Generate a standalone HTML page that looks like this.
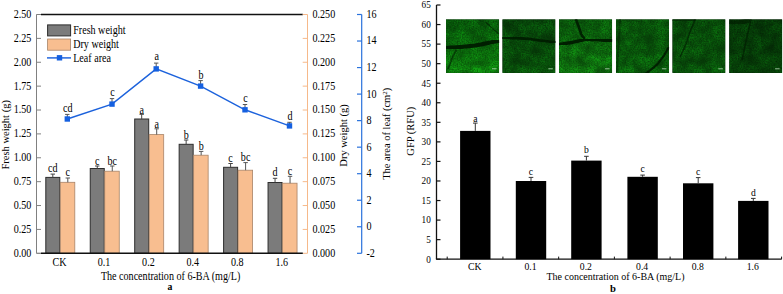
<!DOCTYPE html>
<html><head><meta charset="utf-8"><style>
html,body{margin:0;padding:0;background:#fff;width:783px;height:294px;overflow:hidden}
svg{display:block}
text{font-family:"Liberation Serif", serif;font-size:11.6px;fill:#000}
.pb{font-size:10.4px}
</style></head><body>
<svg width="783" height="294" viewBox="0 0 783 294">
<line x1="36.5" y1="14.5" x2="36.5" y2="253.3" stroke="#808080" stroke-width="1"/>
<line x1="36.5" y1="14.5" x2="41" y2="14.5" stroke="#9a9a9a" stroke-width="1"/>
<line x1="36.5" y1="253.3" x2="41" y2="253.3" stroke="#9a9a9a" stroke-width="1"/>
<line x1="41" y1="14.5" x2="302.8" y2="14.5" stroke="#111" stroke-width="1.4"/>
<line x1="36.5" y1="253.30" x2="41" y2="253.30" stroke="#808080" stroke-width="1"/>
<text transform="translate(31.3 256.70) scale(0.87 1)" text-anchor="end">0.00</text>
<line x1="36.5" y1="229.42" x2="41" y2="229.42" stroke="#808080" stroke-width="1"/>
<text transform="translate(31.3 232.82) scale(0.87 1)" text-anchor="end">0.25</text>
<line x1="36.5" y1="205.54" x2="41" y2="205.54" stroke="#808080" stroke-width="1"/>
<text transform="translate(31.3 208.94) scale(0.87 1)" text-anchor="end">0.50</text>
<line x1="36.5" y1="181.66" x2="41" y2="181.66" stroke="#808080" stroke-width="1"/>
<text transform="translate(31.3 185.06) scale(0.87 1)" text-anchor="end">0.75</text>
<line x1="36.5" y1="157.78" x2="41" y2="157.78" stroke="#808080" stroke-width="1"/>
<text transform="translate(31.3 161.18) scale(0.87 1)" text-anchor="end">1.00</text>
<line x1="36.5" y1="133.90" x2="41" y2="133.90" stroke="#808080" stroke-width="1"/>
<text transform="translate(31.3 137.30) scale(0.87 1)" text-anchor="end">1.25</text>
<line x1="36.5" y1="110.02" x2="41" y2="110.02" stroke="#808080" stroke-width="1"/>
<text transform="translate(31.3 113.42) scale(0.87 1)" text-anchor="end">1.50</text>
<line x1="36.5" y1="86.14" x2="41" y2="86.14" stroke="#808080" stroke-width="1"/>
<text transform="translate(31.3 89.54) scale(0.87 1)" text-anchor="end">1.75</text>
<line x1="36.5" y1="62.26" x2="41" y2="62.26" stroke="#808080" stroke-width="1"/>
<text transform="translate(31.3 65.66) scale(0.87 1)" text-anchor="end">2.00</text>
<line x1="36.5" y1="38.38" x2="41" y2="38.38" stroke="#808080" stroke-width="1"/>
<text transform="translate(31.3 41.78) scale(0.87 1)" text-anchor="end">2.25</text>
<line x1="36.5" y1="14.50" x2="41" y2="14.50" stroke="#808080" stroke-width="1"/>
<text transform="translate(31.3 17.90) scale(0.87 1)" text-anchor="end">2.50</text>
<line x1="307.5" y1="14.5" x2="307.5" y2="253.3" stroke="#f6b98a" stroke-width="1"/>
<line x1="302.7" y1="253.30" x2="307.5" y2="253.30" stroke="#f6b98a" stroke-width="1"/>
<text transform="translate(312.5 256.70) scale(0.87 1)">0.000</text>
<line x1="302.7" y1="229.42" x2="307.5" y2="229.42" stroke="#f6b98a" stroke-width="1"/>
<text transform="translate(312.5 232.82) scale(0.87 1)">0.025</text>
<line x1="302.7" y1="205.54" x2="307.5" y2="205.54" stroke="#f6b98a" stroke-width="1"/>
<text transform="translate(312.5 208.94) scale(0.87 1)">0.050</text>
<line x1="302.7" y1="181.66" x2="307.5" y2="181.66" stroke="#f6b98a" stroke-width="1"/>
<text transform="translate(312.5 185.06) scale(0.87 1)">0.075</text>
<line x1="302.7" y1="157.78" x2="307.5" y2="157.78" stroke="#f6b98a" stroke-width="1"/>
<text transform="translate(312.5 161.18) scale(0.87 1)">0.100</text>
<line x1="302.7" y1="133.90" x2="307.5" y2="133.90" stroke="#f6b98a" stroke-width="1"/>
<text transform="translate(312.5 137.30) scale(0.87 1)">0.125</text>
<line x1="302.7" y1="110.02" x2="307.5" y2="110.02" stroke="#f6b98a" stroke-width="1"/>
<text transform="translate(312.5 113.42) scale(0.87 1)">0.150</text>
<line x1="302.7" y1="86.14" x2="307.5" y2="86.14" stroke="#f6b98a" stroke-width="1"/>
<text transform="translate(312.5 89.54) scale(0.87 1)">0.175</text>
<line x1="302.7" y1="62.26" x2="307.5" y2="62.26" stroke="#f6b98a" stroke-width="1"/>
<text transform="translate(312.5 65.66) scale(0.87 1)">0.200</text>
<line x1="302.7" y1="38.38" x2="307.5" y2="38.38" stroke="#f6b98a" stroke-width="1"/>
<text transform="translate(312.5 41.78) scale(0.87 1)">0.225</text>
<line x1="302.7" y1="14.50" x2="307.5" y2="14.50" stroke="#f6b98a" stroke-width="1"/>
<text transform="translate(312.5 17.90) scale(0.87 1)">0.250</text>
<line x1="361.7" y1="14.5" x2="361.7" y2="253.3" stroke="#2a72dc" stroke-width="1.2"/>
<line x1="357" y1="253.30" x2="361.7" y2="253.30" stroke="#2a72dc" stroke-width="1.2"/>
<text transform="translate(366.5 256.70) scale(0.87 1)">-2</text>
<line x1="357" y1="226.77" x2="361.7" y2="226.77" stroke="#2a72dc" stroke-width="1.2"/>
<text transform="translate(366.5 230.17) scale(0.87 1)">0</text>
<line x1="357" y1="200.23" x2="361.7" y2="200.23" stroke="#2a72dc" stroke-width="1.2"/>
<text transform="translate(366.5 203.63) scale(0.87 1)">2</text>
<line x1="357" y1="173.70" x2="361.7" y2="173.70" stroke="#2a72dc" stroke-width="1.2"/>
<text transform="translate(366.5 177.10) scale(0.87 1)">4</text>
<line x1="357" y1="147.17" x2="361.7" y2="147.17" stroke="#2a72dc" stroke-width="1.2"/>
<text transform="translate(366.5 150.57) scale(0.87 1)">6</text>
<line x1="357" y1="120.63" x2="361.7" y2="120.63" stroke="#2a72dc" stroke-width="1.2"/>
<text transform="translate(366.5 124.03) scale(0.87 1)">8</text>
<line x1="357" y1="94.10" x2="361.7" y2="94.10" stroke="#2a72dc" stroke-width="1.2"/>
<text transform="translate(366.5 97.50) scale(0.87 1)">10</text>
<line x1="357" y1="67.57" x2="361.7" y2="67.57" stroke="#2a72dc" stroke-width="1.2"/>
<text transform="translate(366.5 70.97) scale(0.87 1)">12</text>
<line x1="357" y1="41.03" x2="361.7" y2="41.03" stroke="#2a72dc" stroke-width="1.2"/>
<text transform="translate(366.5 44.43) scale(0.87 1)">14</text>
<line x1="357" y1="14.50" x2="361.7" y2="14.50" stroke="#2a72dc" stroke-width="1.2"/>
<text transform="translate(366.5 17.90) scale(0.87 1)">16</text>
<rect x="45.80" y="177.40" width="14.00" height="75.90" fill="#7b7b7b" stroke="#2e2e2e" stroke-width="1"/>
<rect x="60.30" y="182.30" width="14.50" height="71.00" fill="#f8be90" stroke="#a88468" stroke-width="0.8"/>
<path d="M52.80 177.40V174.10M50.60 174.10H55.00" stroke="#444" stroke-width="1" fill="none"/>
<path d="M67.80 182.30V178.00M65.60 178.00H70.00" stroke="#555" stroke-width="1" fill="none"/>
<text transform="translate(52.80 172.10) scale(0.87 1)" text-anchor="middle">cd</text>
<text transform="translate(67.80 176.30) scale(0.87 1)" text-anchor="middle">c</text>
<rect x="90.25" y="168.50" width="14.00" height="84.80" fill="#7b7b7b" stroke="#2e2e2e" stroke-width="1"/>
<rect x="104.75" y="171.20" width="14.50" height="82.10" fill="#f8be90" stroke="#a88468" stroke-width="0.8"/>
<path d="M97.25 168.50V166.00M95.05 166.00H99.45" stroke="#444" stroke-width="1" fill="none"/>
<path d="M112.25 171.20V166.00M110.05 166.00H114.45" stroke="#555" stroke-width="1" fill="none"/>
<text transform="translate(97.25 164.50) scale(0.87 1)" text-anchor="middle">c</text>
<text transform="translate(112.25 164.50) scale(0.87 1)" text-anchor="middle">bc</text>
<rect x="134.70" y="119.00" width="14.00" height="134.30" fill="#7b7b7b" stroke="#2e2e2e" stroke-width="1"/>
<rect x="149.20" y="134.60" width="14.50" height="118.70" fill="#f8be90" stroke="#a88468" stroke-width="0.8"/>
<path d="M141.70 119.00V114.30M139.50 114.30H143.90" stroke="#444" stroke-width="1" fill="none"/>
<path d="M156.70 134.60V128.80M154.50 128.80H158.90" stroke="#555" stroke-width="1" fill="none"/>
<text transform="translate(141.70 113.70) scale(0.87 1)" text-anchor="middle">a</text>
<text transform="translate(156.70 128.10) scale(0.87 1)" text-anchor="middle">a</text>
<rect x="179.15" y="144.30" width="14.00" height="109.00" fill="#7b7b7b" stroke="#2e2e2e" stroke-width="1"/>
<rect x="193.65" y="155.20" width="14.50" height="98.10" fill="#f8be90" stroke="#a88468" stroke-width="0.8"/>
<path d="M186.15 144.30V140.00M183.95 140.00H188.35" stroke="#444" stroke-width="1" fill="none"/>
<path d="M201.15 155.20V151.40M198.95 151.40H203.35" stroke="#555" stroke-width="1" fill="none"/>
<text transform="translate(186.15 139.20) scale(0.87 1)" text-anchor="middle">b</text>
<text transform="translate(201.15 149.90) scale(0.87 1)" text-anchor="middle">b</text>
<rect x="223.60" y="167.30" width="14.00" height="86.00" fill="#7b7b7b" stroke="#2e2e2e" stroke-width="1"/>
<rect x="238.10" y="170.20" width="14.50" height="83.10" fill="#f8be90" stroke="#a88468" stroke-width="0.8"/>
<path d="M230.60 167.30V163.50M228.40 163.50H232.80" stroke="#444" stroke-width="1" fill="none"/>
<path d="M245.60 170.20V162.60M243.40 162.60H247.80" stroke="#555" stroke-width="1" fill="none"/>
<text transform="translate(230.60 162.10) scale(0.87 1)" text-anchor="middle">c</text>
<text transform="translate(245.60 161.00) scale(0.87 1)" text-anchor="middle">bc</text>
<rect x="268.05" y="182.50" width="14.00" height="70.80" fill="#7b7b7b" stroke="#2e2e2e" stroke-width="1"/>
<rect x="282.55" y="183.20" width="14.50" height="70.10" fill="#f8be90" stroke="#a88468" stroke-width="0.8"/>
<path d="M275.05 182.50V178.30M272.85 178.30H277.25" stroke="#444" stroke-width="1" fill="none"/>
<path d="M290.05 183.20V176.30M287.85 176.30H292.25" stroke="#555" stroke-width="1" fill="none"/>
<text transform="translate(275.05 175.90) scale(0.87 1)" text-anchor="middle">d</text>
<text transform="translate(290.05 175.40) scale(0.87 1)" text-anchor="middle">c</text>
<line x1="41" y1="253.3" x2="302.8" y2="253.3" stroke="#111" stroke-width="1.4"/>
<polyline points="67.3,119.0 112.0,104.1 156.2,68.9 200.6,86.1 245.0,109.8 289.5,125.9" fill="none" stroke="#1c62dc" stroke-width="1.45"/>
<path d="M67.3 119.0V114.4M65.1 114.4H69.5" stroke="#555" stroke-width="1" fill="none"/>
<rect x="64.6" y="116.3" width="5.4" height="5.4" fill="#1560e0"/>
<text transform="translate(67.8 111.5) scale(0.87 1)" text-anchor="middle">cd</text>
<path d="M112.0 104.1V98.6M109.8 98.6H114.2" stroke="#555" stroke-width="1" fill="none"/>
<rect x="109.3" y="101.39999999999999" width="5.4" height="5.4" fill="#1560e0"/>
<text transform="translate(112.5 95.9) scale(0.87 1)" text-anchor="middle">c</text>
<path d="M156.2 68.9V63.1M154.0 63.1H158.39999999999998" stroke="#555" stroke-width="1" fill="none"/>
<rect x="153.5" y="66.2" width="5.4" height="5.4" fill="#1560e0"/>
<text transform="translate(156.7 59.7) scale(0.87 1)" text-anchor="middle">a</text>
<path d="M200.6 86.1V80.6M198.4 80.6H202.79999999999998" stroke="#555" stroke-width="1" fill="none"/>
<rect x="197.9" y="83.39999999999999" width="5.4" height="5.4" fill="#1560e0"/>
<text transform="translate(201.1 78.5) scale(0.87 1)" text-anchor="middle">b</text>
<path d="M245.0 109.8V104.5M242.8 104.5H247.2" stroke="#555" stroke-width="1" fill="none"/>
<rect x="242.3" y="107.1" width="5.4" height="5.4" fill="#1560e0"/>
<text transform="translate(245.5 101.5) scale(0.87 1)" text-anchor="middle">c</text>
<path d="M289.5 125.9V122.3M287.3 122.3H291.7" stroke="#555" stroke-width="1" fill="none"/>
<rect x="286.8" y="123.2" width="5.4" height="5.4" fill="#1560e0"/>
<text transform="translate(290.0 119.5) scale(0.87 1)" text-anchor="middle">d</text>
<rect x="47.6" y="24.9" width="23" height="11" fill="#7b7b7b" stroke="#2e2e2e" stroke-width="1"/>
<rect x="47.6" y="39" width="23" height="11.2" fill="#f8be90" stroke="#a88468" stroke-width="0.8"/>
<line x1="47" y1="57.9" x2="71" y2="57.9" stroke="#1c62dc" stroke-width="1.45"/>
<rect x="56.8" y="55.1" width="5.4" height="5.4" fill="#1560e0"/>
<text transform="translate(73.2 34.3) scale(0.87 1)">Fresh weight</text>
<text transform="translate(73.2 48.2) scale(0.87 1)">Dry weight</text>
<text transform="translate(73.2 62.1) scale(0.87 1)">Leaf area</text>
<text transform="translate(59.50 265.9) scale(0.87 1)" text-anchor="middle">CK</text>
<text transform="translate(103.95 265.9) scale(0.87 1)" text-anchor="middle">0.1</text>
<text transform="translate(148.40 265.9) scale(0.87 1)" text-anchor="middle">0.2</text>
<text transform="translate(192.85 265.9) scale(0.87 1)" text-anchor="middle">0.4</text>
<text transform="translate(237.30 265.9) scale(0.87 1)" text-anchor="middle">0.8</text>
<text transform="translate(281.75 265.9) scale(0.87 1)" text-anchor="middle">1.6</text>
<text transform="translate(100.9 279.8) scale(0.87 1)">The concentration of 6-BA (mg/L)</text>
<text transform="translate(169.9 290.3) scale(0.87 1)" text-anchor="middle" font-weight="bold" style="font-size:11.2px">a</text>
<text transform="translate(8.8 134.8) scale(1.0 1) rotate(-90)" text-anchor="middle" style="font-size:10.5px">Fresh weight (g)</text>
<text transform="translate(346.7 135.5) scale(1.0 1) rotate(-90)" text-anchor="middle" style="font-size:10.5px">Dry weight (g)</text>
<text transform="translate(390.3 133.8) scale(1.0 1) rotate(-90)" text-anchor="middle" style="font-size:10.5px">The area of leaf (cm<tspan dy="-3" style="font-size:7px">2</tspan><tspan dy="3">)</tspan></text>
<line x1="436.5" y1="5.0" x2="436.5" y2="259.2" stroke="#111" stroke-width="1.3"/>
<line x1="436.5" y1="259.20" x2="440.5" y2="259.20" stroke="#111" stroke-width="1.2"/>
<text transform="translate(430.8 262.50) scale(0.98 1)" text-anchor="end" class="pb" style="font-size:9.4px">0</text>
<line x1="436.5" y1="239.65" x2="440.5" y2="239.65" stroke="#111" stroke-width="1.2"/>
<text transform="translate(430.8 242.95) scale(0.98 1)" text-anchor="end" class="pb" style="font-size:9.4px">5</text>
<line x1="436.5" y1="220.09" x2="440.5" y2="220.09" stroke="#111" stroke-width="1.2"/>
<text transform="translate(430.8 223.39) scale(0.98 1)" text-anchor="end" class="pb" style="font-size:9.4px">10</text>
<line x1="436.5" y1="200.54" x2="440.5" y2="200.54" stroke="#111" stroke-width="1.2"/>
<text transform="translate(430.8 203.84) scale(0.98 1)" text-anchor="end" class="pb" style="font-size:9.4px">15</text>
<line x1="436.5" y1="180.98" x2="440.5" y2="180.98" stroke="#111" stroke-width="1.2"/>
<text transform="translate(430.8 184.28) scale(0.98 1)" text-anchor="end" class="pb" style="font-size:9.4px">20</text>
<line x1="436.5" y1="161.43" x2="440.5" y2="161.43" stroke="#111" stroke-width="1.2"/>
<text transform="translate(430.8 164.73) scale(0.98 1)" text-anchor="end" class="pb" style="font-size:9.4px">25</text>
<line x1="436.5" y1="141.88" x2="440.5" y2="141.88" stroke="#111" stroke-width="1.2"/>
<text transform="translate(430.8 145.18) scale(0.98 1)" text-anchor="end" class="pb" style="font-size:9.4px">30</text>
<line x1="436.5" y1="122.32" x2="440.5" y2="122.32" stroke="#111" stroke-width="1.2"/>
<text transform="translate(430.8 125.62) scale(0.98 1)" text-anchor="end" class="pb" style="font-size:9.4px">35</text>
<line x1="436.5" y1="102.77" x2="440.5" y2="102.77" stroke="#111" stroke-width="1.2"/>
<text transform="translate(430.8 106.07) scale(0.98 1)" text-anchor="end" class="pb" style="font-size:9.4px">40</text>
<line x1="436.5" y1="83.22" x2="440.5" y2="83.22" stroke="#111" stroke-width="1.2"/>
<text transform="translate(430.8 86.52) scale(0.98 1)" text-anchor="end" class="pb" style="font-size:9.4px">45</text>
<line x1="436.5" y1="63.66" x2="440.5" y2="63.66" stroke="#111" stroke-width="1.2"/>
<text transform="translate(430.8 66.96) scale(0.98 1)" text-anchor="end" class="pb" style="font-size:9.4px">50</text>
<line x1="436.5" y1="44.11" x2="440.5" y2="44.11" stroke="#111" stroke-width="1.2"/>
<text transform="translate(430.8 47.41) scale(0.98 1)" text-anchor="end" class="pb" style="font-size:9.4px">55</text>
<line x1="436.5" y1="24.55" x2="440.5" y2="24.55" stroke="#111" stroke-width="1.2"/>
<text transform="translate(430.8 27.85) scale(0.98 1)" text-anchor="end" class="pb" style="font-size:9.4px">60</text>
<line x1="436.5" y1="5.00" x2="440.5" y2="5.00" stroke="#111" stroke-width="1.2"/>
<text transform="translate(430.8 8.30) scale(0.98 1)" text-anchor="end" class="pb" style="font-size:9.4px">65</text>
<line x1="435.9" y1="259.2" x2="781.6" y2="259.2" stroke="#111" stroke-width="1.3"/>
<line x1="447.20" y1="259.2" x2="447.20" y2="256.59999999999997" stroke="#111" stroke-width="1"/>
<line x1="502.93" y1="259.2" x2="502.93" y2="256.59999999999997" stroke="#111" stroke-width="1"/>
<line x1="558.66" y1="259.2" x2="558.66" y2="256.59999999999997" stroke="#111" stroke-width="1"/>
<line x1="614.39" y1="259.2" x2="614.39" y2="256.59999999999997" stroke="#111" stroke-width="1"/>
<line x1="670.12" y1="259.2" x2="670.12" y2="256.59999999999997" stroke="#111" stroke-width="1"/>
<line x1="725.85" y1="259.2" x2="725.85" y2="256.59999999999997" stroke="#111" stroke-width="1"/>
<line x1="781.58" y1="259.2" x2="781.58" y2="256.59999999999997" stroke="#111" stroke-width="1"/>
<rect x="460.1" y="130.9" width="30.4" height="128.30" fill="#000"/>
<path d="M475.30 130.9V123.1M473.00 123.1H477.60" stroke="#333" stroke-width="1" fill="none"/>
<text transform="translate(475.30 121.5) scale(0.98 1)" text-anchor="middle" class="pb" style="font-size:9.8px">a</text>
<text transform="translate(474.80 270.2) scale(0.98 1)" text-anchor="middle" class="pb" style="font-size:9.9px">CK</text>
<rect x="515.8" y="181.0" width="30.4" height="78.20" fill="#000"/>
<path d="M531.00 181.0V177.4M528.70 177.4H533.30" stroke="#333" stroke-width="1" fill="none"/>
<text transform="translate(531.00 175.2) scale(0.98 1)" text-anchor="middle" class="pb" style="font-size:9.8px">c</text>
<text transform="translate(530.50 270.2) scale(0.98 1)" text-anchor="middle" class="pb" style="font-size:9.9px">0.1</text>
<rect x="571.2" y="160.6" width="30.4" height="98.60" fill="#000"/>
<path d="M586.40 160.6V156.3M584.10 156.3H588.70" stroke="#333" stroke-width="1" fill="none"/>
<text transform="translate(586.40 152.7) scale(0.98 1)" text-anchor="middle" class="pb" style="font-size:9.8px">b</text>
<text transform="translate(585.90 270.2) scale(0.98 1)" text-anchor="middle" class="pb" style="font-size:9.9px">0.2</text>
<rect x="627.4" y="176.8" width="30.4" height="82.40" fill="#000"/>
<path d="M642.60 176.8V175.1M640.30 175.1H644.90" stroke="#333" stroke-width="1" fill="none"/>
<text transform="translate(642.60 171.7) scale(0.98 1)" text-anchor="middle" class="pb" style="font-size:9.8px">c</text>
<text transform="translate(642.10 270.2) scale(0.98 1)" text-anchor="middle" class="pb" style="font-size:9.9px">0.4</text>
<rect x="683.0" y="183.3" width="30.4" height="75.90" fill="#000"/>
<path d="M698.20 183.3V177.6M695.90 177.6H700.50" stroke="#333" stroke-width="1" fill="none"/>
<text transform="translate(698.20 174.7) scale(0.98 1)" text-anchor="middle" class="pb" style="font-size:9.8px">c</text>
<text transform="translate(697.70 270.2) scale(0.98 1)" text-anchor="middle" class="pb" style="font-size:9.9px">0.8</text>
<rect x="738.1" y="200.9" width="30.4" height="58.30" fill="#000"/>
<path d="M753.30 200.9V198.4M751.00 198.4H755.60" stroke="#333" stroke-width="1" fill="none"/>
<text transform="translate(753.30 195.5) scale(0.98 1)" text-anchor="middle" class="pb" style="font-size:9.8px">d</text>
<text transform="translate(752.80 270.2) scale(0.98 1)" text-anchor="middle" class="pb" style="font-size:9.9px">1.6</text>
<text transform="translate(546.5 280.3) scale(0.98 1)" class="pb" style="font-size:10.2px">The concentration of 6-BA (mg/L)</text>
<text transform="translate(613 292.0) scale(0.98 1)" text-anchor="middle" font-weight="bold" class="pb" style="font-size:10.8px">b</text>
<text transform="translate(414 131.2) scale(1.0 1) rotate(-90)" text-anchor="middle" style="font-size:10.5px">GFP (RFU)</text>
<defs>
<filter id="nz" x="0" y="0" width="100%" height="100%" color-interpolation-filters="sRGB">
<feTurbulence type="fractalNoise" baseFrequency="0.75" numOctaves="2" seed="3" result="t1"/>
<feColorMatrix in="t1" type="matrix" values="1 0 0 0 0  1 0 0 0 0  1 0 0 0 0  0 0 0 0 1" result="g1"/>
<feTurbulence type="fractalNoise" baseFrequency="0.09" numOctaves="2" seed="11" result="t2"/>
<feColorMatrix in="t2" type="matrix" values="1 0 0 0 0  1 0 0 0 0  1 0 0 0 0  0 0 0 0 1" result="g2"/>
<feComposite in="g1" in2="g2" operator="arithmetic" k1="2" k2="0" k3="0" k4="0" result="m"/>
<feComposite in="m" in2="SourceGraphic" operator="arithmetic" k1="0.8" k2="0" k3="0.6" k4="0"/><feGaussianBlur stdDeviation="0.45"/>
</filter>
<filter id="vb" x="-10%" y="-10%" width="120%" height="120%"><feGaussianBlur stdDeviation="0.6"/></filter>
</defs>
<defs><linearGradient id="g0" x1="0" y1="0" x2="0" y2="1"><stop offset="0" stop-color="rgb(7, 86, 10)"/><stop offset="1" stop-color="rgb(13, 124, 13)"/></linearGradient><linearGradient id="g1" x1="0" y1="0" x2="0" y2="1"><stop offset="0" stop-color="rgb(6, 66, 9)"/><stop offset="1" stop-color="rgb(8, 80, 10)"/></linearGradient><linearGradient id="g2" x1="0" y1="0" x2="0" y2="1"><stop offset="0" stop-color="rgb(9, 88, 11)"/><stop offset="1" stop-color="rgb(14, 110, 14)"/></linearGradient><linearGradient id="g3" x1="0" y1="0" x2="0" y2="1"><stop offset="0" stop-color="rgb(8, 80, 10)"/><stop offset="1" stop-color="rgb(9, 90, 11)"/></linearGradient><linearGradient id="g4" x1="0" y1="0" x2="0" y2="1"><stop offset="0" stop-color="rgb(7, 73, 9)"/><stop offset="1" stop-color="rgb(8, 81, 10)"/></linearGradient><linearGradient id="g5" x1="0" y1="0" x2="0" y2="1"><stop offset="0" stop-color="rgb(5, 56, 7)"/><stop offset="1" stop-color="rgb(6, 64, 8)"/></linearGradient></defs>
<clipPath id="c0"><rect x="446.0" y="19.2" width="53.2" height="53.7"/></clipPath>
<g clip-path="url(#c0)"><rect x="446.0" y="19.2" width="53.2" height="53.7" fill="url(#g0)" filter="url(#nz)"/>
<path d="M446 47.8 C458 47.6 468 46.2 475 45.5 C484 44 492 41.8 499.5 41" stroke="#031a04" stroke-width="4.2" fill="none" opacity="0.95" filter="url(#vb)"/>
<path d="M456.5 49.5 C454 54 452 58 451 61.3 C450 64 449 66.5 448 69" stroke="#031a04" stroke-width="1.8" fill="none" opacity="0.55" filter="url(#vb)"/>
<path d="M486 22.5 C490 26 494 30 499 34" stroke="#031a04" stroke-width="1.1" fill="none" opacity="0.6" filter="url(#vb)"/>
<line x1="492.0" y1="68.8" x2="496.5" y2="68.8" stroke="#a8c8a8" stroke-width="0.9"/></g>
<clipPath id="c1"><rect x="502.3" y="19.2" width="53.2" height="53.7"/></clipPath>
<g clip-path="url(#c1)"><rect x="502.3" y="19.2" width="53.2" height="53.7" fill="url(#g1)" filter="url(#nz)"/>
<path d="M502 37.8 C512 38 522 38.3 530 39 C540 40.5 548 41.6 556 42.3" stroke="#031a04" stroke-width="2.6" fill="none" opacity="0.9" filter="url(#vb)"/>
<line x1="548.3" y1="68.8" x2="552.8" y2="68.8" stroke="#a8c8a8" stroke-width="0.9"/></g>
<clipPath id="c2"><rect x="559.0" y="19.2" width="53.2" height="53.7"/></clipPath>
<g clip-path="url(#c2)"><rect x="559.0" y="19.2" width="53.2" height="53.7" fill="url(#g2)" filter="url(#nz)"/>
<path d="M559 44.5 C567 43.5 577 41.5 584.5 39.6" stroke="#031a04" stroke-width="3.5" fill="none" opacity="0.95" filter="url(#vb)"/>
<path d="M584.5 39.3 C593 39.5 603 40 612.5 41" stroke="#031a04" stroke-width="3.5" fill="none" opacity="0.95" filter="url(#vb)"/>
<path d="M575.9 19 C578 25 580 30 581 34 C582.5 36.5 584 38 585 39" stroke="#031a04" stroke-width="2.5" fill="none" opacity="0.9" filter="url(#vb)"/>
<line x1="605.0" y1="68.8" x2="609.5" y2="68.8" stroke="#a8c8a8" stroke-width="0.9"/></g>
<clipPath id="c3"><rect x="615.9" y="19.2" width="53.2" height="53.7"/></clipPath>
<g clip-path="url(#c3)"><rect x="615.9" y="19.2" width="53.2" height="53.7" fill="url(#g3)" filter="url(#nz)"/>
<path d="M669 47 C666 53 662 59 658 63.5 C654 67.5 650 70.5 646 73.5" stroke="#031a04" stroke-width="2.2" fill="none" opacity="0.9" filter="url(#vb)"/>
<path d="M620 19 C619 35 618 55 617 72" stroke="#031a04" stroke-width="2.0" fill="none" opacity="0.4" filter="url(#vb)"/>
<path d="M616 19.8 H669" stroke="#031a04" stroke-width="1.5" fill="none" opacity="0.5" filter="url(#vb)"/>
<line x1="661.9" y1="68.8" x2="666.4" y2="68.8" stroke="#a8c8a8" stroke-width="0.9"/></g>
<clipPath id="c4"><rect x="672.3" y="19.2" width="53.2" height="53.7"/></clipPath>
<g clip-path="url(#c4)"><rect x="672.3" y="19.2" width="53.2" height="53.7" fill="url(#g4)" filter="url(#nz)"/>
<path d="M695.5 19 C693 25 690 31 688 38 C686 45 683 51 680 57" stroke="#031a04" stroke-width="1.5" fill="none" opacity="0.65" filter="url(#vb)"/>
<path d="M672 20 C680 21 688 20 695 19.5" stroke="#031a04" stroke-width="3.0" fill="none" opacity="0.5" filter="url(#vb)"/>
<line x1="718.3" y1="68.8" x2="722.8" y2="68.8" stroke="#a8c8a8" stroke-width="0.9"/></g>
<clipPath id="c5"><rect x="729.1" y="19.2" width="53.2" height="53.7"/></clipPath>
<g clip-path="url(#c5)"><rect x="729.1" y="19.2" width="53.2" height="53.7" fill="url(#g5)" filter="url(#nz)"/>
<path d="M751 19 C749.5 25 748.5 30 747.4 35.3 C746 42 744 50 742 60" stroke="#031a04" stroke-width="1.6" fill="none" opacity="0.6" filter="url(#vb)"/>
<path d="M729 22 C735 24 741 23 750 20" stroke="#031a04" stroke-width="5.0" fill="none" opacity="0.6" filter="url(#vb)"/>
<line x1="775.1" y1="68.8" x2="779.6" y2="68.8" stroke="#a8c8a8" stroke-width="0.9"/></g>
</svg>
</body></html>
